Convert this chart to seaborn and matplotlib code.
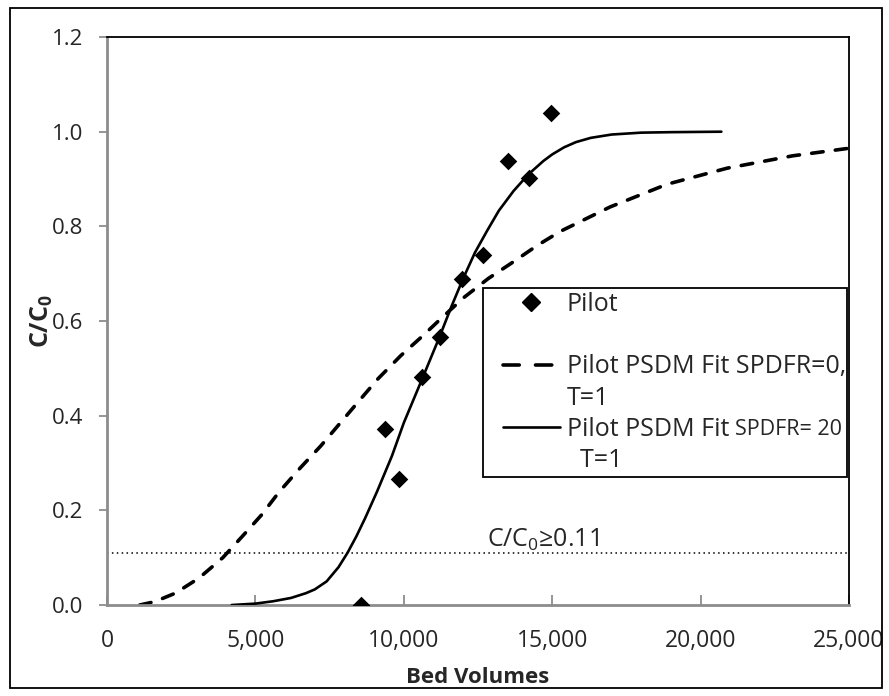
import numpy as np
import pandas as pd
import matplotlib
matplotlib.use("Agg")
import matplotlib.pyplot as plt
import seaborn as sns
from matplotlib.patches import Rectangle
from matplotlib.lines import Line2D
from matplotlib.legend_handler import HandlerLine2D

# ---------------- data ----------------
pilot_bv = [8560, 9370, 9840, 10610, 11220, 11960, 12670, 13510, 14220, 14960]
pilot_c = [0.0, 0.372, 0.266, 0.482, 0.566, 0.689, 0.739, 0.938, 0.902, 1.04]

fit0_bv = [1100, 1600, 2300, 3100, 3900, 4600, 5200, 5800, 6500, 7200, 7850, 8460,
           9130, 9900, 10660, 11300, 12030, 12850, 13690, 14480, 15260, 16950,
           18870, 20900, 23100, 25000]
fit0_c = [0.0, 0.007, 0.025, 0.057, 0.100, 0.148, 0.190, 0.239, 0.289, 0.336, 0.384, 0.429,
          0.478, 0.527, 0.570, 0.608, 0.650, 0.690, 0.725, 0.759, 0.789, 0.841,
          0.889, 0.923, 0.949, 0.965]

fit20_bv = [4200, 5000, 5600, 6200, 6700, 7000, 7400, 7800, 8100, 8400, 8700, 9100, 9600,
            10000, 10600, 11200, 11600, 12000, 12400, 12800, 13200, 13700, 14200,
            14700, 15000, 15400, 15800, 16300, 17000, 18000, 19000, 20700]
fit20_c = [0.0, 0.003, 0.008, 0.015, 0.025, 0.033, 0.050, 0.080, 0.110, 0.145, 0.184, 0.240,
           0.315, 0.385, 0.475, 0.566, 0.630, 0.690, 0.745, 0.790, 0.833, 0.875, 0.910,
           0.938, 0.952, 0.967, 0.978, 0.987, 0.994, 0.998, 0.999, 1.0]

threshold = 0.11
threshold_label = "C/C$_0$≥0.11"

x_ticks = [0, 5000, 10000, 15000, 20000, 25000]
x_tick_labels = ["0", "5,000", "10,000", "15,000", "20,000", "25,000"]
y_ticks = [0.0, 0.2, 0.4, 0.6, 0.8, 1.0, 1.2]
y_tick_labels = ["0.0", "0.2", "0.4", "0.6", "0.8", "1.0", "1.2"]

legend_rows = ["Pilot", " ", "Pilot PSDM Fit SPDFR=0,", "T=1",
               "Pilot PSDM Fit", "  T=1"]
legend_small_suffix = "SPDFR= 20"

# ---------------- style ----------------
sns.set_theme(style="white")
plt.rcParams["font.family"] = ["Open Sans", "DejaVu Sans"]
plt.rcParams["mathtext.fontset"] = "custom"
plt.rcParams["mathtext.rm"] = "Open Sans"
plt.rcParams["mathtext.it"] = "Open Sans:italic"
plt.rcParams["mathtext.bf"] = "Open Sans:bold"

fig = plt.figure(figsize=(8.89, 6.96), dpi=100)
ax = fig.add_axes([0.1204, 0.1307, 0.9550 - 0.1204, 0.9468 - 0.1307])

df_p = pd.DataFrame({"bv": pilot_bv, "c": pilot_c})
df0 = pd.DataFrame({"bv": fit0_bv, "c": fit0_c})
df20 = pd.DataFrame({"bv": fit20_bv, "c": fit20_c})

# threshold dotted line
ax.axhline(threshold, color="black", lw=1.1, linestyle=(0, (1, 2.2)), zorder=1)

sns.lineplot(data=df0, x="bv", y="c", ax=ax, color="black", lw=2.6, sort=False,
             estimator=None, zorder=2)
l0 = ax.lines[-1]
l0.set_dashes((3.2, 3.4))
l0.set_dash_capstyle("round")

sns.lineplot(data=df20, x="bv", y="c", ax=ax, color="black", lw=1.9, sort=False,
             estimator=None, zorder=3)

sns.scatterplot(data=df_p, x="bv", y="c", ax=ax, marker="D", s=80, color="black",
                edgecolor="black", linewidth=0, zorder=4)

ax.text(12800, 0.122, threshold_label, fontsize=18, va="baseline", ha="left")

ax.set_xlim(0, 25000)
ax.set_ylim(0, 1.2)
ax.set_xticks(x_ticks)
ax.set_xticklabels(x_tick_labels)
ax.set_yticks(y_ticks)
ax.set_yticklabels(y_tick_labels)

ax.tick_params(axis="x", direction="in", length=7, width=1.3, color="#8c8c8c",
               labelsize=16.5, pad=17, bottom=True)
ax.tick_params(axis="y", direction="out", length=6, width=1.3, color="#8c8c8c",
               labelsize=16, pad=11, left=True)

for side in ["left", "bottom"]:
    ax.spines[side].set_color("#8c8c8c")
    ax.spines[side].set_linewidth(2)
for side in ["top", "right"]:
    ax.spines[side].set_color("black")
    ax.spines[side].set_linewidth(1.3)
    ax.spines[side].set_visible(True)

ax.set_xlabel("Bed Volumes", fontsize=16, fontweight="bold", labelpad=10)
ax.set_ylabel(r"$\mathbf{C/C_0}$", fontsize=18, labelpad=-2)


class InsetHandler(HandlerLine2D):
    """Line handler that leaves some empty room at the left of the handle box."""
    def __init__(self, inset=0.0, **kw):
        super().__init__(**kw)
        self.inset = inset

    def create_artists(self, legend, orig_handle, xdescent, ydescent, width, height,
                       fontsize, trans):
        off = self.inset * fontsize
        return super().create_artists(legend, orig_handle, xdescent - off, ydescent,
                                      width - off, height, fontsize, trans)


blank = Line2D([], [], linestyle="none", marker=None)
h_p = Line2D([], [], marker="D", color="black", linestyle="none", markersize=9)
h_0 = Line2D([], [], color="black", lw=2.6, dashes=(4.5, 4.5), dash_capstyle="round")
h_20 = Line2D([], [], color="black", lw=1.9)
hmap = {h_p: InsetHandler(0.64), h_0: InsetHandler(0.64), h_20: InsetHandler(0.64)}
leg = ax.legend([h_p, blank, h_0, blank, h_20, blank], legend_rows, loc="upper left",
                bbox_to_anchor=(0.507, 0.558, 0.49, 0.0), mode="expand",
                fontsize=18, frameon=True, fancybox=False, framealpha=1,
                edgecolor="black", labelspacing=0.25, handlelength=2.92,
                handletextpad=0.28, borderpad=0.15, borderaxespad=0, handler_map=hmap)
leg.get_frame().set_linewidth(1.3)

# smaller "SPDFR= 20" part of the third legend entry
ax.annotate(legend_small_suffix, xy=(1, 0), xycoords=leg.get_texts()[4],
            xytext=(4, 1.5), textcoords="offset points", fontsize=15.5,
            va="bottom", ha="left", zorder=10, annotation_clip=False)

# outer figure border
fig.patches.append(Rectangle((0.011, 0.011), 0.981, 0.978, transform=fig.transFigure,
                             fill=False, edgecolor="black", lw=1.3))

fig.savefig("out.png", dpi=100)
